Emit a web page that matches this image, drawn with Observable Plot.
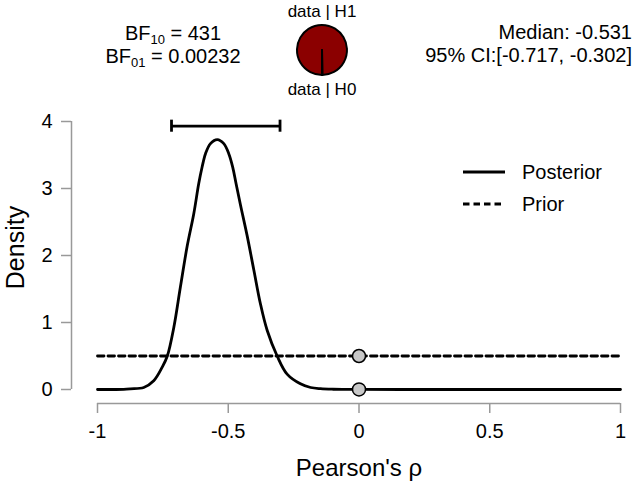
<!DOCTYPE html>
<html>
<head>
<meta charset="utf-8">
<script src="https://cdn.jsdelivr.net/npm/d3@7"></script>
<script src="https://cdn.jsdelivr.net/npm/@observablehq/plot@0.6"></script>
<style>
  html, body { margin: 0; padding: 0; background: white; }
  #wrap { position: relative; width: 638px; height: 488px; font-family: "Liberation Sans", Arial, sans-serif; }
  #overlay { position: absolute; left: 0; top: 0; pointer-events: none; }
</style>
</head>
<body>
<div id="wrap"></div>
<script>
// ---- data ----
const postRho = [-1, -0.95, -0.9, -0.874, -0.823, -0.785, -0.753, -0.733, -0.708, -0.683, -0.657, -0.632, -0.613, -0.600, -0.587, -0.568, -0.542, -0.517, -0.498, -0.483, -0.470, -0.453, -0.428, -0.402, -0.377, -0.351, -0.313, -0.275, -0.224, -0.185, -0.147, -0.1, -0.05, 0, 0.25, 0.5, 0.75, 1];
const postDensity = [0, 0, 0.003, 0.01, 0.03, 0.13, 0.33, 0.50, 0.93, 1.53, 2.14, 2.62, 3.07, 3.32, 3.52, 3.67, 3.73, 3.67, 3.52, 3.32, 3.07, 2.75, 2.30, 1.78, 1.28, 0.88, 0.50, 0.23, 0.085, 0.03, 0.012, 0.004, 0.002, 0.00116, 0, 0, 0, 0];
const priorRho = [-1, 1];
const priorDensity = [0.5, 0.5];
const pointRho = [0, 0];
const pointDensity = [0.5, 0.00116];
const ciBounds = [-0.717, -0.302];
const ciY = 3.93;
const xDomain = [-1, 1];
const yDomain = [0, 4];
const xTicks = [-1, -0.5, 0, 0.5, 1];
const xTickLabels = ["-1", "-0.5", "0", "0.5", "1"];
const yTicks = [0, 1, 2, 3, 4];
const yTickLabels = ["0", "1", "2", "3", "4"];
const xLabel = "Pearson's \u03c1";
const yLabel = "Density";
const bf10 = "431";
const bf01 = "0.00232";
const medianText = "Median: -0.531";
const ciText = "95% CI:[-0.717, -0.302]";
const pieValues = [431, 1]; // H1 : H0
const pieLabels = ["data | H1", "data | H0"];
const legendLabels = ["Posterior", "Prior"];

// ---- build tables ----
const posterior = postRho.map((r, i) => ({rho: r, d: postDensity[i]}));
const prior = priorRho.map((r, i) => ({rho: r, d: priorDensity[i]}));
const points = pointRho.map((r, i) => ({rho: r, d: pointDensity[i]}));
const FONT = "Liberation Sans, Arial, sans-serif";
const AXIS = "#999999";

const chart = Plot.plot({
  width: 638,
  height: 488,
  marginTop: 121,
  marginBottom: 85,
  marginLeft: 71,
  marginRight: 18,
  insetLeft: 26,
  insetBottom: 14,
  style: {fontFamily: FONT, background: "white", color: "black"},
  x: {domain: xDomain},
  y: {domain: yDomain},
  marks: [
    Plot.ruleY([yDomain[0]], {x1: xDomain[0], x2: xDomain[1], dy: 14, stroke: AXIS, strokeWidth: 1.5}),
    Plot.ruleX([xDomain[0]], {y1: yDomain[0], y2: yDomain[1], dx: -26, stroke: AXIS, strokeWidth: 1.5}),
    Plot.axisX({ticks: xTicks, tickSize: 10, tickPadding: 10, stroke: AXIS, strokeWidth: 1.5, fill: "black", fontSize: 20,
      tickFormat: d => xTickLabels[xTicks.indexOf(d)], label: null}),
    Plot.axisY({ticks: yTicks, tickSize: 10, tickPadding: 9, stroke: AXIS, strokeWidth: 1.5, fill: "black", fontSize: 20,
      tickFormat: d => yTickLabels[yTicks.indexOf(d)], label: null}),
    Plot.lineY(prior, {x: "rho", y: "d", stroke: "black", strokeWidth: 2.8, strokeDasharray: "6.5,4"}),
    Plot.lineY(posterior, {x: "rho", y: "d", stroke: "black", strokeWidth: 2.8, curve: "catmull-rom"}),
    Plot.ruleY([ciY], {x1: ciBounds[0], x2: ciBounds[1], stroke: "black", strokeWidth: 2.8}),
    Plot.ruleX(ciBounds, {y1: ciY - 0.09, y2: ciY + 0.09, stroke: "black", strokeWidth: 2.8}),
    Plot.dot(points, {x: "rho", y: "d", r: 6.5, fill: "#c8c8c8", stroke: "black", strokeWidth: 1.5}),
    Plot.text([xLabel], {x: 0, frameAnchor: "bottom", dy: 65, fontSize: 24, lineAnchor: "middle", fill: "black"}),
    Plot.text([yLabel], {y: 2, frameAnchor: "left", dx: -56, dy: -8, rotate: -90, fontSize: 25, lineAnchor: "middle", textAnchor: "middle", fill: "black"})
  ]
});

const wrap = document.getElementById("wrap");
wrap.appendChild(chart);

// ---- overlay: header texts, pie, legend ----
const svg = d3.select(wrap).append("svg")
  .attr("id", "overlay").attr("width", 638).attr("height", 488)
  .style("font-family", FONT);

function bfText(y, sub, val) {
  const t = svg.append("text").attr("x", 173).attr("y", y).attr("text-anchor", "middle")
    .attr("font-size", 20).attr("fill", "black");
  t.append("tspan").text("BF");
  t.append("tspan").attr("font-size", 13).attr("dy", 4).text(sub);
  t.append("tspan").attr("dy", -4).text(" = " + val);
}
bfText(39.5, "10", bf10);
bfText(63, "01", bf01);

svg.append("text").attr("x", 632).attr("y", 39).attr("text-anchor", "end").attr("font-size", 20).text(medianText);
svg.append("text").attr("x", 632).attr("y", 61.5).attr("text-anchor", "end").attr("font-size", 20).text(ciText);

// pie
const pieCx = 322, pieCy = 50, pieR = 25;
const arcs = d3.pie().sort(null).startAngle(Math.PI).endAngle(3 * Math.PI)(pieValues);
const arc = d3.arc().innerRadius(0).outerRadius(pieR);
const pieColors = ["#8b0000", "white"];
const g = svg.append("g").attr("transform", `translate(${pieCx},${pieCy})`);
g.selectAll("path").data(arcs).join("path")
  .attr("d", arc).attr("fill", (d, i) => pieColors[i])
  .attr("stroke", "black").attr("stroke-width", 2).attr("stroke-linejoin", "round");
svg.append("text").attr("x", pieCx).attr("y", 17).attr("text-anchor", "middle").attr("font-size", 17).text(pieLabels[0]);
svg.append("text").attr("x", pieCx).attr("y", 95).attr("text-anchor", "middle").attr("font-size", 17).text(pieLabels[1]);

// legend
const legY = [172, 204];
svg.append("line").attr("x1", 463).attr("x2", 505).attr("y1", legY[0]).attr("y2", legY[0])
  .attr("stroke", "black").attr("stroke-width", 2.8);
svg.append("line").attr("x1", 463).attr("x2", 501).attr("y1", legY[1]).attr("y2", legY[1])
  .attr("stroke", "black").attr("stroke-width", 2.8).attr("stroke-dasharray", "6.5,4");
legendLabels.forEach((lab, i) => {
  svg.append("text").attr("x", 522).attr("y", legY[i]).attr("dy", "0.35em").attr("font-size", 20).text(lab);
});
</script>
</body>
</html>
